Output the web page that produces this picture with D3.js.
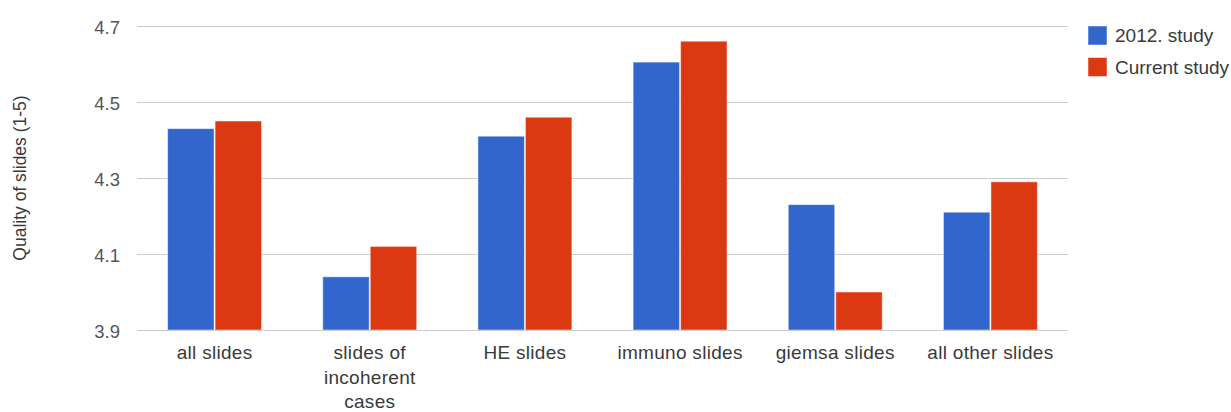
<!DOCTYPE html>
<html>
<head>
<meta charset="utf-8">
<script src="https://cdn.jsdelivr.net/npm/d3@7"></script>
<style>
  body { margin: 0; background: #fff; }
  text { font-family: "Liberation Sans", Arial, sans-serif; }
</style>
</head>
<body>
<div id="wrap"></div>
<script>
// 数据
const categories = [
  ["all slides"],
  ["slides of", "incoherent", "cases"],
  ["HE slides"],
  ["immuno slides"],
  ["giemsa slides"],
  ["all other slides"]
];
const seriesNames = ["2012. study", "Current study"];
const study2012 = [4.43, 4.04, 4.41, 4.605, 4.23, 4.21];
const studyCurrent = [4.45, 4.12, 4.46, 4.66, 4.0, 4.29];
const yTicks = [3.9, 4.1, 4.3, 4.5, 4.7];

const WIDTH = 1231;
const HEIGHT = 412;
const colors = ["#3366cc", "#dc3912"];
const plot = { left: 137, right: 1068, top: 26, bottom: 330 };

const svg = d3.select('#wrap')
  .append('svg')
  .attr('width', WIDTH)
  .attr('height', HEIGHT);

const keys = categories.map(c => c.join(' '));

// x比例尺
const x0 = d3.scaleBand()
  .domain(keys)
  .range([plot.left, plot.right])
  .paddingInner(0.388)
  .paddingOuter(0.194);

const x1 = d3.scaleBand()
  .domain(seriesNames)
  .range([0, x0.bandwidth()]);

// y比例尺
const y = d3.scaleLinear()
  .domain([3.9, 4.7])
  .range([plot.bottom, plot.top]);

// 网格线 + y轴
const yAxis = d3.axisLeft(y)
  .tickValues(yTicks)
  .tickSize(-(plot.right - plot.left))
  .tickPadding(17)
  .tickFormat(d3.format('.1f'));

const gy = svg.append('g')
  .attr('transform', 'translate(' + plot.left + ',0)')
  .call(yAxis);
gy.select('.domain').remove();
gy.selectAll('line').attr('stroke', '#cccccc').attr('stroke-width', 1);
gy.selectAll('text')
  .attr('fill', '#555')
  .attr('dy', '0.38em')
  .style('font-size', '18.5px');

// 柱子
const rows = keys.map((k, i) => ({ key: k, values: [study2012[i], studyCurrent[i]] }));

const groups = svg.append('g')
  .selectAll('g')
  .data(rows)
  .enter()
  .append('g')
  .attr('transform', d => 'translate(' + x0(d.key) + ',0)');

groups.selectAll('rect')
  .data(d => d.values.map((v, j) => ({ name: seriesNames[j], value: v, j: j })))
  .enter()
  .append('rect')
  .attr('x', d => x1(d.name) + 0.5)
  .attr('width', x1.bandwidth() - 1)
  .attr('y', d => y(d.value))
  .attr('height', d => y(3.9) - y(d.value))
  .attr('fill', d => colors[d.j])
  .attr('stroke', '#ffffff')
  .attr('stroke-opacity', 0.5)
  .attr('stroke-width', 1);

// 底线
svg.append('line')
  .attr('x1', plot.left).attr('x2', plot.right)
  .attr('y1', y(3.9) + 0.5).attr('y2', y(3.9) + 0.5)
  .attr('stroke', '#cccccc');

// x轴标签
const xl = svg.append('g')
  .selectAll('text')
  .data(categories)
  .enter()
  .append('text')
  .attr('x', (d, i) => x0(keys[i]) + x0.bandwidth() / 2)
  .attr('y', 359)
  .attr('text-anchor', 'middle')
  .attr('fill', '#3a3a3a')
  .style('font-size', '19px')
  .style('letter-spacing', '0.3px');
xl.selectAll('tspan')
  .data(d => d)
  .enter()
  .append('tspan')
  .attr('x', function () { return d3.select(this.parentNode).attr('x'); })
  .attr('dy', (d, i) => i === 0 ? 0 : 24.5)
  .text(d => d);

// y轴标题
svg.append('text')
  .attr('transform', 'translate(26,' + (plot.top + plot.bottom) / 2 + ') rotate(-90)')
  .attr('text-anchor', 'middle')
  .attr('fill', '#3a3a3a')
  .style('font-size', '17.5px')
  .text('Quality of slides (1-5)');

// 图例
const legend = svg.append('g')
  .selectAll('g')
  .data(seriesNames)
  .enter()
  .append('g')
  .attr('transform', (d, i) => 'translate(1088,' + (26 + i * 31.5) + ')');
legend.append('rect')
  .attr('width', 19)
  .attr('height', 19)
  .attr('fill', (d, i) => colors[i])
  .attr('stroke', '#fff')
  .attr('stroke-opacity', 0.5);
legend.append('text')
  .attr('x', 27)
  .attr('y', 16)
  .attr('fill', '#3a3a3a')
  .style('font-size', '19px')
  .text(d => d);
</script>
</body>
</html>
